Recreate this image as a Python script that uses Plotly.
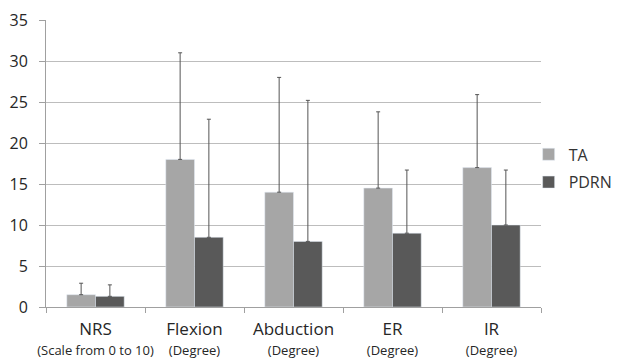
import plotly.graph_objects as go

categories = ["NRS", "Flexion", "Abduction", "ER", "IR"]
subtitles = ["(Scale from 0 to 10)", "(Degree)", "(Degree)", "(Degree)", "(Degree)"]
ta_values = [1.5, 18, 14, 14.5, 17]
ta_err = [1.4, 13, 14, 9.3, 8.9]
pdrn_values = [1.3, 8.5, 8, 9, 10]
pdrn_err = [1.4, 14.4, 17.2, 7.7, 6.7]
y_ticks = [0, 5, 10, 15, 20, 25, 30, 35]

labels = [f"<span style='font-size:17px'>{c}</span><br><span style='font-size:13px'>{s}</span>"
          for c, s in zip(categories, subtitles)]

def err(vals):
    return dict(type="data", array=vals, arrayminus=[0] * len(vals), symmetric=False,
                color="#555555", thickness=1, width=2)

fig = go.Figure()
fig.add_trace(go.Bar(name="TA", x=labels, y=ta_values, marker_color="#a6a6a6",
                     error_y=err(ta_err), legendgroup="a"))
fig.add_trace(go.Bar(name="PDRN", x=labels, y=pdrn_values, marker_color="#595959",
                     error_y=err(pdrn_err), legendgroup="b"))

# page body has an 8px margin, so the figure is sized/offset to compensate
fig.update_layout(
    width=614, height=352,
    margin=dict(l=38, r=81, t=12, b=53, autoexpand=False),
    paper_bgcolor="white", plot_bgcolor="white",
    barmode="group", bargap=0.42, bargroupgap=0,
    font=dict(family="Open Sans, Noto Sans, sans-serif", color="#262626"),
    legend=dict(x=0.975, xanchor="left", y=0.483, yanchor="middle",
                bgcolor="rgba(0,0,0,0)",
                font=dict(size=16, color="#333333"), traceorder="grouped", tracegroupgap=4,
                itemwidth=30),
    xaxis=dict(showline=True, linecolor="#a0a0a0", linewidth=1, tickangle=0,
               ticks="outside", tickson="boundaries", ticklen=5, tickcolor="#a0a0a0",
               tickfont=dict(size=15), showgrid=False, automargin=False,
               ticklabelstandoff=9),
    yaxis=dict(range=[0, 35], tickvals=y_ticks, showline=True, linecolor="#a0a0a0",
               linewidth=1, ticks="outside", ticklen=6, tickcolor="#a0a0a0",
               gridcolor="#bdbdbd", gridwidth=1, zeroline=False, automargin=False,
               tickfont=dict(size=16), ticklabelstandoff=8),
)

fig.write_html("out.html")
